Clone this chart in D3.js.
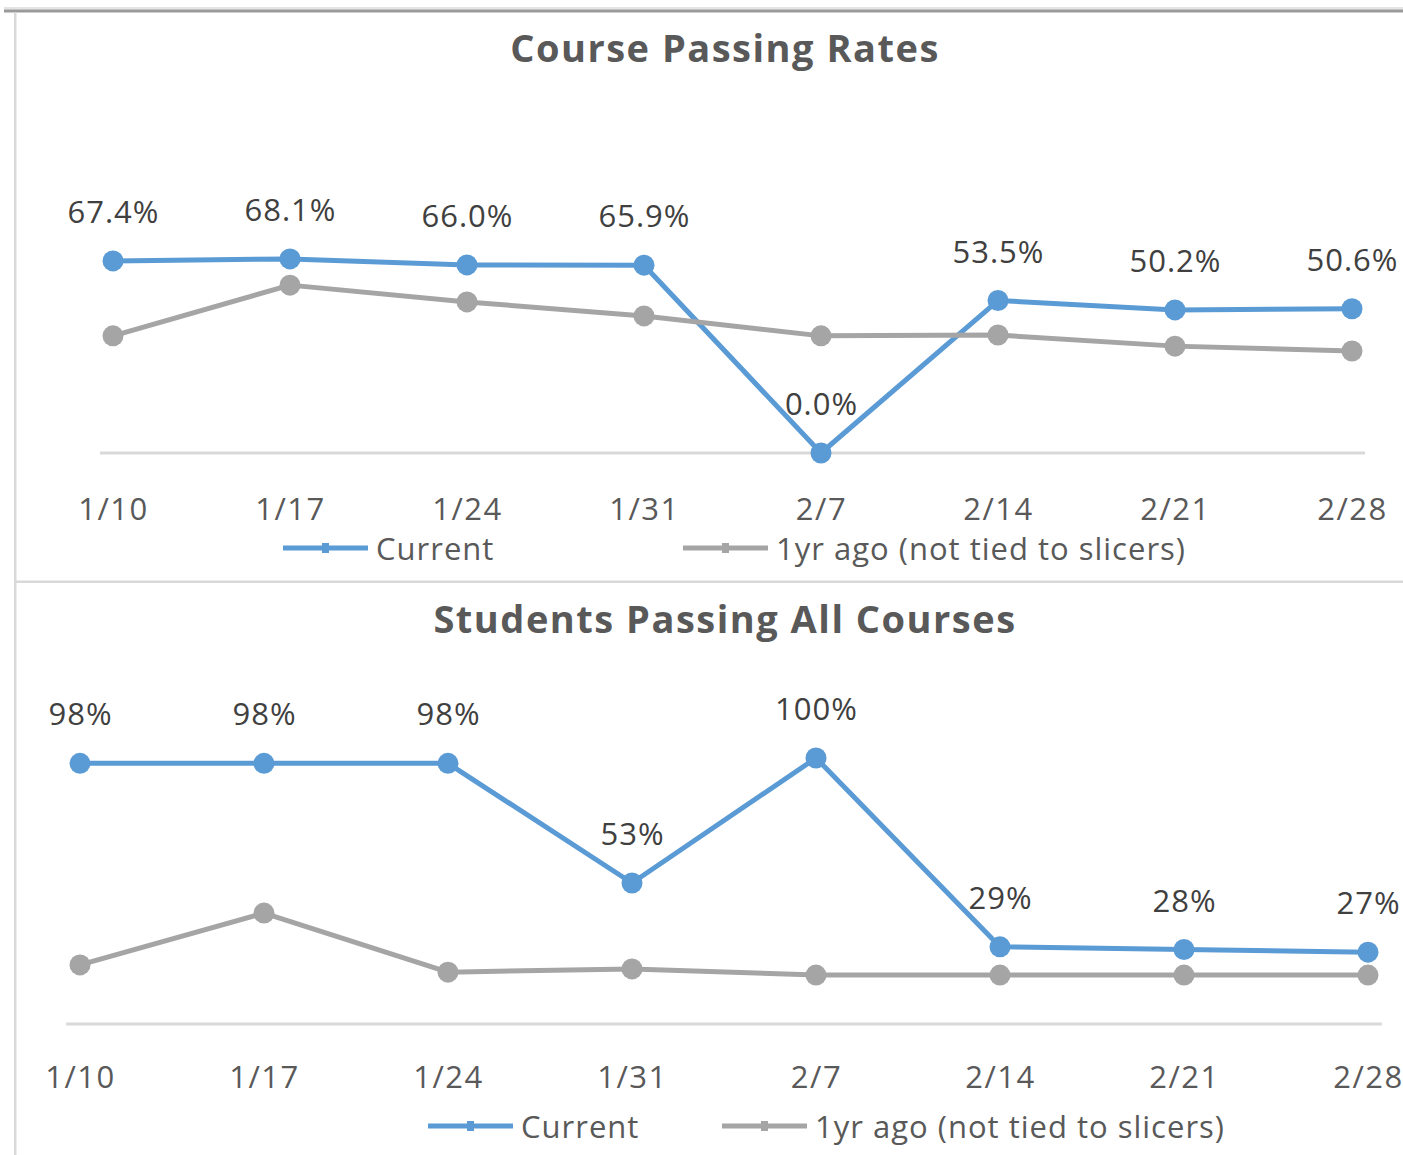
<!DOCTYPE html>
<html>
<head>
<meta charset="utf-8">
<script src="https://cdn.jsdelivr.net/npm/d3@7"></script>
<style>
  body { margin: 0; background: #fff; }
  svg text { font-family: "Open Sans", "Noto Sans", sans-serif; }
</style>
</head>
<body>
<svg id="chart" width="1403" height="1155"></svg>
<script>
// week labels shared by both charts
var weeks = ['1/10', '1/17', '1/24', '1/31', '2/7', '2/14', '2/21', '2/28'];

// Course Passing Rates (%)
var rateCurrent = [67.4, 68.1, 66.0, 65.9, 0.0, 53.5, 50.2, 50.6];
var rateLastYear = [41.1, 58.9, 53.0, 48.1, 41.1, 41.4, 37.5, 35.8];

// Students Passing All Courses (%)
var allCurrent = [98, 98, 98, 53, 100, 29, 28, 27];
var allLastYear = [22.2, 41.7, 19.5, 20.7, 18.4, 18.4, 18.4, 18.4];

var seriesNames = ['Current', '1yr ago (not tied to slicers)'];

var blue = '#5b9bd5';
var grey = '#a5a5a5';

var svg = d3.select('#chart');

// frame lines round the two charts
svg.append('rect').attr('x', 4).attr('y', 7).attr('width', 1399).attr('height', 2.5).attr('fill', '#e4e4e4');
svg.append('rect').attr('x', 4).attr('y', 9.5).attr('width', 1399).attr('height', 3).attr('fill', '#9a9a9a');
svg.append('rect').attr('x', 14).attr('y', 12.5).attr('width', 2.5).attr('height', 1143).attr('fill', '#d9d9d9');
svg.append('rect').attr('x', 16).attr('y', 580.5).attr('width', 1387).attr('height', 2.5).attr('fill', '#d9d9d9');

var charts = [
  {
    title: 'Course Passing Rates', titleY: 62,
    current: rateCurrent, lastYear: rateLastYear,
    x0: 113, x1: 1352, axisY: 453, pxPerPct: 2.85, axisPad: 13,
    fmt: d => d.toFixed(1) + '%', tickDy: 67,
    legendY: 548, legend: [283, 683]
  },
  {
    title: 'Students Passing All Courses', titleY: 633,
    current: allCurrent, lastYear: allLastYear,
    x0: 80, x1: 1368, axisY: 1024, pxPerPct: 2.66, axisPad: 14,
    fmt: d => Math.round(d) + '%', tickDy: 64,
    legendY: 1126, legend: [428, 722]
  }
];

charts.forEach(function (c) {
  var g = svg.append('g');

  var x = d3.scalePoint().domain(weeks).range([c.x0, c.x1]);
  var y = d3.scaleLinear().domain([0, 100]).range([c.axisY, c.axisY - 100 * c.pxPerPct]);

  g.append('text')
    .attr('x', 725).attr('y', c.titleY)
    .attr('text-anchor', 'middle')
    .attr('font-size', 38).attr('font-weight', 'bold')
    .attr('letter-spacing', 1.5)
    .attr('fill', '#595959')
    .text(c.title);

  // category axis: just the baseline and the labels
  g.append('line')
    .attr('x1', c.x0 - c.axisPad).attr('x2', c.x1 + c.axisPad)
    .attr('y1', y(0)).attr('y2', y(0))
    .attr('stroke', '#d9d9d9').attr('stroke-width', 3);

  g.selectAll('.tick')
    .data(weeks)
    .enter()
    .append('text')
    .attr('x', d => x(d) + 0.5)
    .attr('y', y(0) + c.tickDy)
    .attr('text-anchor', 'middle')
    .attr('font-size', 31)
    .attr('letter-spacing', 1.5)
    .attr('fill', '#595959')
    .text(d => d);

  var line = d3.line()
    .x((d, i) => x(weeks[i]))
    .y(d => y(d));

  [[c.current, blue], [c.lastYear, grey]].forEach(function (s) {
    g.append('path')
      .attr('d', line(s[0]))
      .attr('fill', 'none')
      .attr('stroke', s[1])
      .attr('stroke-width', 5)
      .attr('stroke-linejoin', 'round');
    g.selectAll(null)
      .data(s[0])
      .enter()
      .append('circle')
      .attr('cx', (d, i) => x(weeks[i]))
      .attr('cy', d => y(d))
      .attr('r', 10.5)
      .attr('fill', s[1]);
  });

  // data labels only on the current series
  g.selectAll(null)
    .data(c.current)
    .enter()
    .append('text')
    .attr('x', (d, i) => x(weeks[i]) + 0.5)
    .attr('y', d => y(d) - 38)
    .attr('text-anchor', 'middle')
    .attr('font-size', 31)
    .attr('letter-spacing', 1)
    .attr('fill', '#404040')
    .text(c.fmt);

  // legend
  [blue, grey].forEach(function (col, i) {
    var lx = c.legend[i];
    g.append('line')
      .attr('x1', lx).attr('x2', lx + 85)
      .attr('y1', c.legendY).attr('y2', c.legendY)
      .attr('stroke', col).attr('stroke-width', 5);
    g.append('rect')
      .attr('x', lx + 39).attr('y', c.legendY - 5)
      .attr('width', 7).attr('height', 10)
      .attr('fill', col);
    g.append('text')
      .attr('x', lx + 93).attr('y', c.legendY + 12)
      .attr('font-size', 31)
      .attr('letter-spacing', 1)
      .attr('fill', '#595959')
      .text(seriesNames[i]);
  });
});
</script>
</body>
</html>
